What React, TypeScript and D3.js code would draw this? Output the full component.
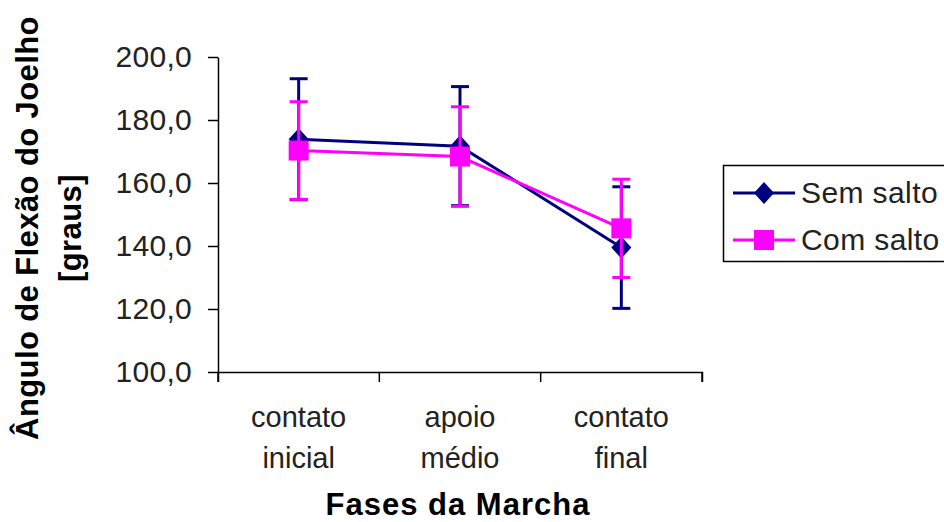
import React, { useEffect, useRef } from "react";
import * as d3 from "d3";

const categories = [
  ["contato", "inicial"],
  ["apoio", "médio"],
  ["contato", "final"],
];
const semSaltoMean = [173.9, 171.7, 139.5];
const semSaltoSd = [19.2, 18.9, 19.3];
const comSaltoMean = [170.3, 168.4, 145.6];
const comSaltoSd = [15.5, 15.8, 15.6];
const yTicks = [100, 120, 140, 160, 180, 200];

const FONT = "'Liberation Sans', Arial, sans-serif";

const App = () => {
  const svgRef = useRef(null);
  const width = 944;
  const height = 522;
  const margin = { top: 57, right: 242, bottom: 150, left: 218 };

  useEffect(() => {
    const svgEl = d3.select(svgRef.current);
    svgEl.selectAll("*").remove();

    const x = d3
      .scaleBand()
      .domain(categories.map((d, i) => String(i)))
      .range([margin.left, width - margin.right])
      .padding(0);

    const y = d3
      .scaleLinear()
      .domain([100, 200])
      .range([height - margin.bottom, margin.top]);

    const cx = (i) => x(String(i)) + x.bandwidth() / 2;

    // axes
    const xAxis = (g) =>
      g
        .attr("transform", `translate(0,${y(100)})`)
        .call(d3.axisBottom(x).tickSize(10).tickSizeOuter(10).tickFormat(() => ""))
        .call((g) => g.selectAll(".tick").attr("transform", (d) => `translate(${x(d)},0)`))
        .call((g) =>
          g
            .append("line")
            .attr("x1", x.range()[1])
            .attr("x2", x.range()[1])
            .attr("y1", 0)
            .attr("y2", 10)
            .attr("stroke", "#000")
            .attr("stroke-width", 1.5)
        );

    const yAxis = (g) =>
      g
        .attr("transform", `translate(${margin.left},0)`)
        .call(
          d3
            .axisLeft(y)
            .tickValues(yTicks)
            .tickSize(10)
            .tickSizeOuter(0)
            .tickPadding(16)
            .tickFormat((d) => d3.format(".1f")(d).replace(".", ","))
        );

    svgEl.append("g").attr("class", "x-axis").call(xAxis);
    svgEl.append("g").attr("class", "y-axis").call(yAxis);

    svgEl
      .selectAll(".x-axis path, .x-axis line, .y-axis path, .y-axis line")
      .attr("stroke", "#000")
      .attr("stroke-width", 1.5);
    svgEl
      .selectAll(".y-axis text")
      .attr("font-family", FONT)
      .attr("font-size", 30)
      .attr("letter-spacing", 0.3)
      .attr("fill", "#222");

    // category labels
    const catG = svgEl
      .append("g")
      .attr("font-family", FONT)
      .attr("font-size", 29)
      .attr("fill", "#222");
    categories.forEach((lines, i) => {
      lines.forEach((t, j) => {
        catG
          .append("text")
          .attr("x", cx(i))
          .attr("y", 427 + j * 41)
          .attr("text-anchor", "middle")
          .text(t);
      });
    });

    // axis titles
    svgEl
      .append("text")
      .attr("x", 458)
      .attr("y", 515)
      .attr("text-anchor", "middle")
      .attr("font-family", FONT)
      .attr("font-weight", "bold")
      .attr("font-size", 31)
      .attr("letter-spacing", 1)
      .text("Fases da Marcha");

    const yt = svgEl
      .append("text")
      .attr("transform", "translate(0,228) rotate(-90)")
      .attr("text-anchor", "middle")
      .attr("font-family", FONT)
      .attr("font-weight", "bold")
      .attr("font-size", 31)
      .attr("letter-spacing", 0.4);
    yt.append("tspan").attr("x", 0).attr("y", 38).text("Ângulo de Flexão do Joelho");
    yt.append("tspan").attr("x", 0).attr("y", 81).text("[graus]");

    const series = [
      { name: "Sem salto", mean: semSaltoMean, sd: semSaltoSd, color: "#000080", shape: "diamond" },
      { name: "Com salto", mean: comSaltoMean, sd: comSaltoSd, color: "#FF00FF", shape: "square" },
    ];

    const drawMarker = (g, shape, color, px, py) => {
      if (shape === "diamond") {
        g.append("path")
          .attr("d", `M${px},${py - 11}L${px + 10},${py}L${px},${py + 11}L${px - 10},${py}Z`)
          .attr("fill", color);
      } else {
        g.append("rect")
          .attr("x", px - 10)
          .attr("y", py - 10)
          .attr("width", 20)
          .attr("height", 20)
          .attr("fill", color);
      }
    };

    const line = d3
      .line()
      .x((d, i) => cx(i))
      .y((d) => y(d));

    series.forEach((s) => {
      const g = svgEl.append("g");
      // error bars
      s.mean.forEach((m, i) => {
        const top = y(m + s.sd[i]);
        const bot = y(m - s.sd[i]);
        g.append("line")
          .attr("x1", cx(i)).attr("x2", cx(i))
          .attr("y1", top).attr("y2", bot)
          .attr("stroke", s.color).attr("stroke-width", 3);
        [top, bot].forEach((yy) =>
          g.append("line")
            .attr("x1", cx(i) - 9).attr("x2", cx(i) + 9)
            .attr("y1", yy).attr("y2", yy)
            .attr("stroke", s.color).attr("stroke-width", 3)
        );
      });
      g.append("path")
        .datum(s.mean)
        .attr("d", line)
        .attr("fill", "none")
        .attr("stroke", s.color)
        .attr("stroke-width", 3);
      s.mean.forEach((m, i) => drawMarker(g, s.shape, s.color, cx(i), y(m)));
    });

    // legend
    const lg = svgEl.append("g");
    lg.append("rect")
      .attr("x", 723.5)
      .attr("y", 165.5)
      .attr("width", 240)
      .attr("height", 96)
      .attr("fill", "#fff")
      .attr("stroke", "#000")
      .attr("stroke-width", 1.5);
    series.forEach((s, i) => {
      const ly = 193 + i * 47;
      lg.append("line")
        .attr("x1", 733).attr("x2", 795)
        .attr("y1", ly).attr("y2", ly)
        .attr("stroke", s.color).attr("stroke-width", 3);
      drawMarker(lg, s.shape, s.color, 764, ly);
      lg.append("text")
        .attr("x", 801)
        .attr("y", ly + 10)
        .attr("font-family", FONT)
        .attr("font-size", 30)
        .attr("letter-spacing", 0.4)
        .attr("fill", "#222")
        .text(s.name);
    });
  }, []);

  return (
    <svg
      ref={svgRef}
      width={width}
      height={height}
      style={{ position: "absolute", left: 0, top: 0, background: "#fff" }}
    />
  );
};

export default App;
